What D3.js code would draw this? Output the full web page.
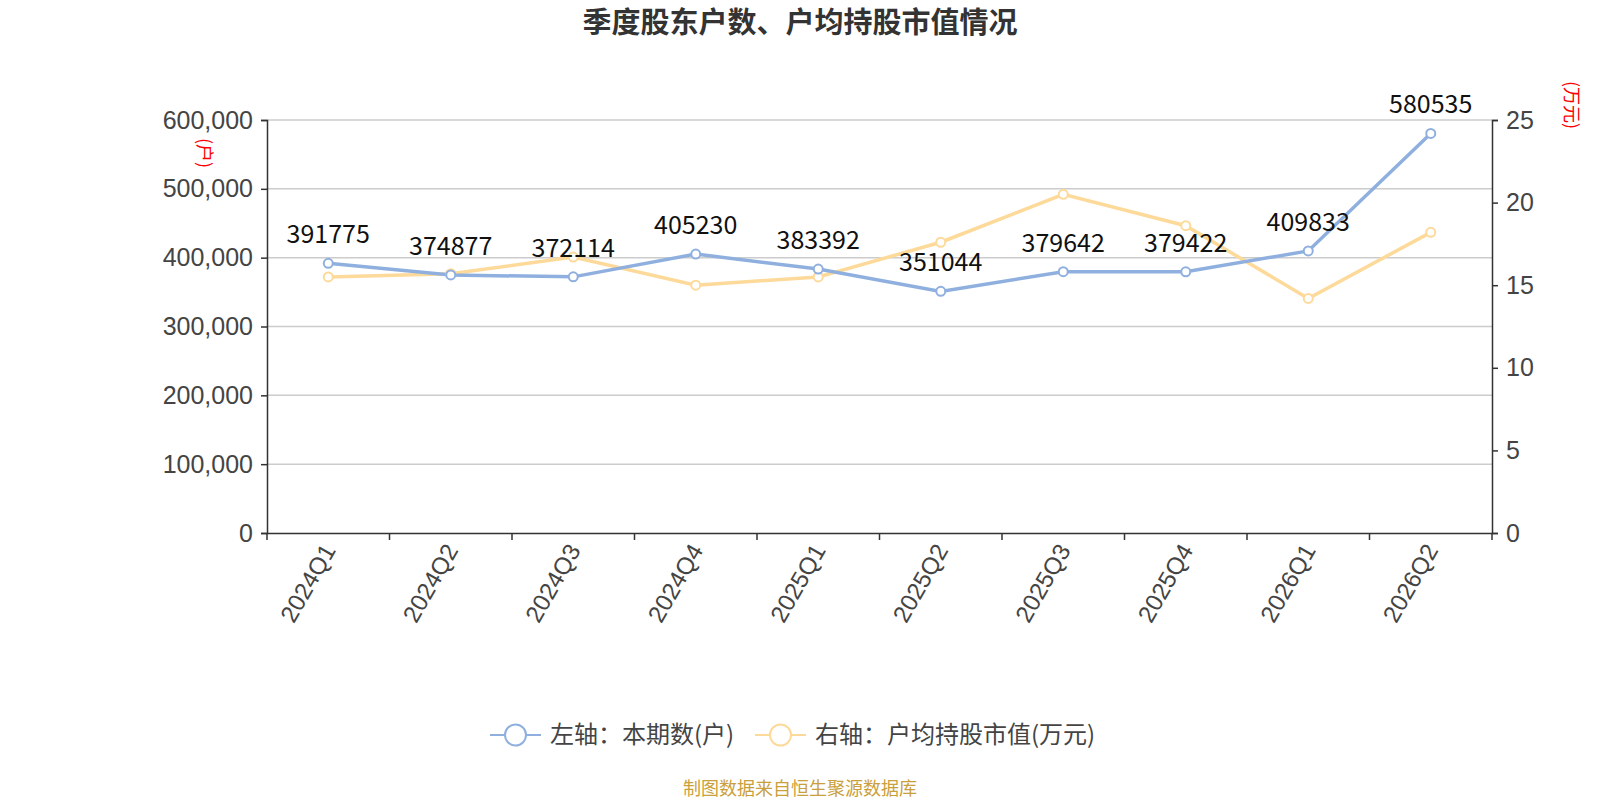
<!DOCTYPE html>
<html>
<head>
<meta charset="utf-8">
<style>
  body { margin: 0; background: #fff; }
  svg { font-family: "Noto Sans CJK SC", "Noto Sans", sans-serif; }
  .tick text { fill: #444; font-size: 25px; }
</style>
</head>
<body>
<svg width="1600" height="800"></svg>
<script src="https://cdnjs.cloudflare.com/ajax/libs/d3/7.8.5/d3.min.js"></script>
<script>
var quarters = ["2024Q1","2024Q2","2024Q3","2024Q4","2025Q1","2025Q2","2025Q3","2025Q4","2026Q1","2026Q2"];
var holders = [391775, 374877, 372114, 405230, 383392, 351044, 379642, 379422, 409833, 580535];
var avgValue = [15.5, 15.7, 16.7, 15.0, 15.5, 17.6, 20.5, 18.6, 14.2, 18.2];
var leftTicks = [0, 100000, 200000, 300000, 400000, 500000, 600000];
var rightTicks = [0, 5, 10, 15, 20, 25];

var blue = "#8fb0df", yellow = "#fdda9a";
var svg = d3.select("svg");
var plotL = 267, plotR = 1492, plotT = 120, plotB = 533;

var x = d3.scaleBand().domain(quarters).range([plotL, plotR]);
var yL = d3.scaleLinear().domain([0, 600000]).range([plotB, plotT]);
var yR = d3.scaleLinear().domain([0, 25]).range([plotB, plotT]);

// title
svg.append("text").attr("x", 800).attr("y", 33).attr("text-anchor", "middle")
    .style("font-size", "29px").style("font-weight", "bold").style("fill", "#333")
    .text("季度股东户数、户均持股市值情况");

// grid
svg.append("g").selectAll("line").data(leftTicks.slice(1)).enter().append("line")
    .attr("x1", plotL).attr("x2", plotR)
    .attr("y1", function(d) { return yL(d); }).attr("y2", function(d) { return yL(d); })
    .attr("stroke", "#ccc").attr("stroke-width", 1.5);

// axes
var gl = svg.append("g").attr("transform", "translate(" + plotL + ",0)")
    .call(d3.axisLeft(yL).tickValues(leftTicks).tickFormat(d3.format(",")).tickSize(6).tickPadding(8));
var gr = svg.append("g").attr("transform", "translate(" + plotR + ",0)")
    .call(d3.axisRight(yR).tickValues(rightTicks).tickSize(6).tickPadding(8));
var gx = svg.append("g").attr("transform", "translate(0," + plotB + ")")
    .call(d3.axisBottom(x).tickSize(0).tickPadding(0).tickFormat(""));
[gl, gr, gx].forEach(function(g) {
    g.select(".domain").attr("stroke", "#333").attr("stroke-width", 1.5);
    g.selectAll(".tick line").attr("stroke", "#333").attr("stroke-width", 1.5);
});
// x ticks at band boundaries
var bounds = quarters.map(function(q) { return x(q); }).concat([plotR]);
gx.selectAll("line.b").data(bounds).enter().append("line").attr("class", "b")
    .attr("x1", function(d) { return d; }).attr("x2", function(d) { return d; })
    .attr("y1", 0).attr("y2", 7).attr("stroke", "#333").attr("stroke-width", 1.5);
gx.selectAll("text.q").data(quarters).enter().append("text").attr("class", "q")
    .attr("transform", function(d) { return "translate(" + (x(d) + x.bandwidth() / 2 + 1) + ",13) rotate(-60)"; })
    .attr("text-anchor", "end").attr("dy", "0.35em")
    .style("font-size", "24px").style("fill", "#444").text(function(d) { return d; });

// axis names
svg.append("text").attr("transform", "translate(204,153) rotate(90)")
    .attr("text-anchor", "middle").attr("dy", "0.35em")
    .style("font-size", "18px").style("fill", "red").text("(户)");
svg.append("text").attr("transform", "translate(1571,105) rotate(90)")
    .attr("text-anchor", "middle").attr("dy", "0.35em")
    .style("font-size", "18px").style("fill", "red").text("(万元)");

function cx(i) { return x(quarters[i]) + x.bandwidth() / 2; }

// lines
svg.append("path").datum(avgValue)
    .attr("fill", "none").attr("stroke", yellow).attr("stroke-width", 3.5)
    .attr("d", d3.line().x(function(d, i) { return cx(i); }).y(function(d) { return yR(d); }));
svg.append("path").datum(holders)
    .attr("fill", "none").attr("stroke", blue).attr("stroke-width", 3.5)
    .attr("d", d3.line().x(function(d, i) { return cx(i); }).y(function(d) { return yL(d); }));

svg.append("g").selectAll("circle").data(avgValue).enter().append("circle")
    .attr("cx", function(d, i) { return cx(i); }).attr("cy", function(d) { return yR(d); })
    .attr("r", 4.5).attr("fill", "#fff").attr("stroke", yellow).attr("stroke-width", 2);
svg.append("g").selectAll("circle").data(holders).enter().append("circle")
    .attr("cx", function(d, i) { return cx(i); }).attr("cy", function(d) { return yL(d); })
    .attr("r", 4.5).attr("fill", "#fff").attr("stroke", blue).attr("stroke-width", 2);

// labels
svg.append("g").selectAll("text").data(holders).enter().append("text")
    .attr("x", function(d, i) { return cx(i); }).attr("y", function(d) { return yL(d) - 20; })
    .attr("text-anchor", "middle")
    .style("font-size", "25px").style("fill", "#111").text(function(d) { return d; });

// legend
var legend = [
    { label: "左轴：本期数(户)", color: blue, x: 490 },
    { label: "右轴：户均持股市值(万元)", color: yellow, x: 755 }
];
var lg = svg.append("g").selectAll("g").data(legend).enter().append("g")
    .attr("transform", function(d) { return "translate(" + d.x + ",735)"; });
lg.append("line").attr("x1", 0).attr("x2", 51).attr("stroke", function(d) { return d.color; }).attr("stroke-width", 2);
lg.append("circle").attr("cx", 25.5).attr("r", 10.5).attr("fill", "#fff")
    .attr("stroke", function(d) { return d.color; }).attr("stroke-width", 2);
lg.append("text").attr("x", 60).attr("dy", "0.35em")
    .style("font-size", "24px").style("fill", "#444").text(function(d) { return d.label; });

// source
svg.append("text").attr("x", 800).attr("y", 795).attr("text-anchor", "middle")
    .style("font-size", "18px").style("fill", "#c9a03c").text("制图数据来自恒生聚源数据库");
</script>
</body>
</html>
